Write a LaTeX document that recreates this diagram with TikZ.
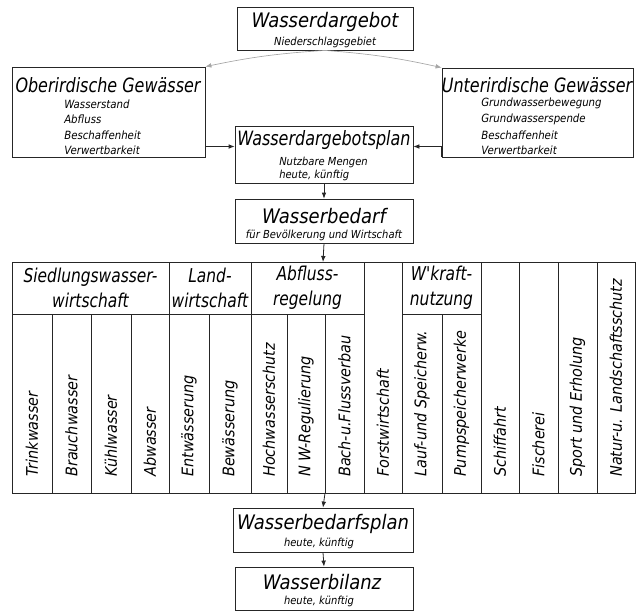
\documentclass[tikz,border=0pt]{standalone}
\usepackage{fontspec}
\setmainfont{DejaVu Sans Condensed}
\newfontfamily\narrowfont{DejaVu Sans Condensed}[FakeStretch=0.9]
\usepackage{tikz}
\usetikzlibrary{arrows.meta}

\tikzset{
  box/.style={draw=black!85, line width=0.6pt, inner sep=0pt},
  title/.style={inner sep=0.75pt, font=\fontsize{15}{18}\selectfont\itshape},
  wide title/.style={inner sep=0.75pt, font=\narrowfont\fontsize{14.8}{18}\selectfont\itshape},
  sub/.style={inner sep=0.75pt, font=\fontsize{8.3}{9.5}\selectfont\itshape},
  item/.style={anchor=west, inner sep=0.75pt, font=\fontsize{8.5}{10}\selectfont\itshape},
  head/.style={align=center, inner sep=0.75pt, font=\narrowfont\fontsize{14.3}{18.75}\selectfont\itshape},
  col/.style={rotate=90, anchor=west, inner sep=0.75pt, font=\fontsize{12}{14}\selectfont\itshape},
  flow/.style={draw=black!85, line width=0.6pt, -{Latex[length=4.5pt,width=3.5pt]}},
  thin flow/.style={draw=black!35, line width=0.5pt, -{Latex[length=4.5pt,width=3.5pt]}}
}

\begin{document}
\begin{tikzpicture}[x=0.75pt,y=0.75pt,yscale=-1,xscale=1]
\useasboundingbox (0,0) rectangle (637,612);

%Boxes
\node (dargebot) [box, minimum width=132pt, minimum height=32.25pt] at (325,28.5) {};
\node (ober) [box, minimum width=144.75pt, minimum height=67.5pt] at (108.5,112) {};
\node (unter) [box, minimum width=143.25pt, minimum height=66.75pt] at (537.5,112.5) {};
\node (plan) [box, minimum width=133.5pt, minimum height=42.75pt] at (324,154.5) {};
\node (bedarf) [box, minimum width=133.5pt, minimum height=33pt] at (324,221) {};
\node (bedplan) [box, minimum width=135pt, minimum height=33pt] at (323,530) {};
\node (bilanz) [box, minimum width=133.5pt, minimum height=32.25pt] at (324,588.5) {};

%Table
\draw [black!85, line width=0.6pt] (12,262) rectangle (635,493);
\coordinate (tabtop) at (323,262);
\coordinate (tabbot) at (325,493);
\draw [black!85, line width=0.6pt] (12,314) -- (364,314) (402,314) -- (481,314);
\foreach \x in {169,251,364,402,481,519,558,597}
  \draw [black!85, line width=0.6pt] (\x,262) -- (\x,493);
\foreach \x in {52,91,131,209,287,325,442}
  \draw [black!85, line width=0.6pt] (\x,314) -- (\x,493);

%Connectors
\draw [thin flow] (dargebot.south) to[bend left=4] (ober.north east);
\draw [thin flow] (dargebot.south) to[bend right=4] (unter.north west);
\draw [flow] (ober.south east) |- ([yshift=-6pt]plan.west);
\draw [flow] (unter.south west) |- ([yshift=-6pt]plan.east);
\draw [flow] (plan.south) -- (bedarf.north);
\draw [flow] (bedarf.south) -- (tabtop);
\draw [flow] (tabbot) -- (bedplan.north);
\draw [flow] (bedplan.south) -- (bilanz.north);

% Text Node
\node (t1) [title] at (325,22) {Wasserdargebot};
\node (s1) [sub] at (325,42) {Niederschlagsgebiet};
% Text Node
\node (t2) [wide title] at (108,85) {Oberirdische Gewässer};
\node (i21) [item] at (63,104) {Wasserstand};
\node (i22) [item] at (63,119) {Abfluss};
\node (i23) [item] at (63,135) {Beschaffenheit};
\node (i24) [item] at (63,150) {Verwertbarkeit};
% Text Node
\node (t3) [wide title] at (537,85) {Unterirdische Gewässer};
\node (i31) [item] at (480,103) {Grundwasserbewegung};
\node (i32) [item] at (480,119) {Grundwasserspende};
\node (i33) [item] at (480,135) {Beschaffenheit};
\node (i34) [item] at (480,150) {Verwertbarkeit};
% Text Node
\node (t4) [wide title] at (324,140) {Wasserdargebotsplan};
\node (s4) [sub, anchor=north west, align=left] at (278,156) {Nutzbare Mengen\\heute, künftig};
% Text Node
\node (t5) [title] at (324,216) {Wasserbedarf};
\node (s5) [sub] at (324,235) {für Bevölkerung und Wirtschaft};
% Text Node
\node (t6) [title] at (323,524) {Wasserbedarfsplan};
\node (s6) [sub] at (319,543) {heute, künftig};
% Text Node
\node (t7) [title] at (322,582) {Wasserbilanz};
\node (s7) [sub] at (319,601) {heute, künftig};

%Table heads
\node (h1) [head] at (90.5,287.5) {Siedlungswasser-\\wirtschaft};
\node (h2) [head] at (210,287.5) {Land-\\wirtschaft};
\node (h3) [head] at (307.5,287.5) {Abfluss-\\regelung};
\node (h4) [head] at (441.5,287.5) {W'kraft-\\nutzung};

%Table columns
\foreach \x/\txt [count=\i] in {32/Trinkwasser, 71.5/Brauchwasser, 111/Kühlwasser, 150/Abwasser,
    189/Entwässerung, 230/Bewässerung, 269/Hochwasserschutz, 306/N W-Regulierung,
    344.5/Bach-u.Flussverbau, 383/Forstwirtschaft, 422/Lauf-und Speicherw., 461.5/Pumpspeicherwerke,
    500/Schiffahrt, 538.5/Fischerei, 577.5/Sport und Erholung, 616/Natur-u. Landschaftsschutz}
  \node (c\i) [col] at (\x,478) {\txt};

\end{tikzpicture}
\end{document}
